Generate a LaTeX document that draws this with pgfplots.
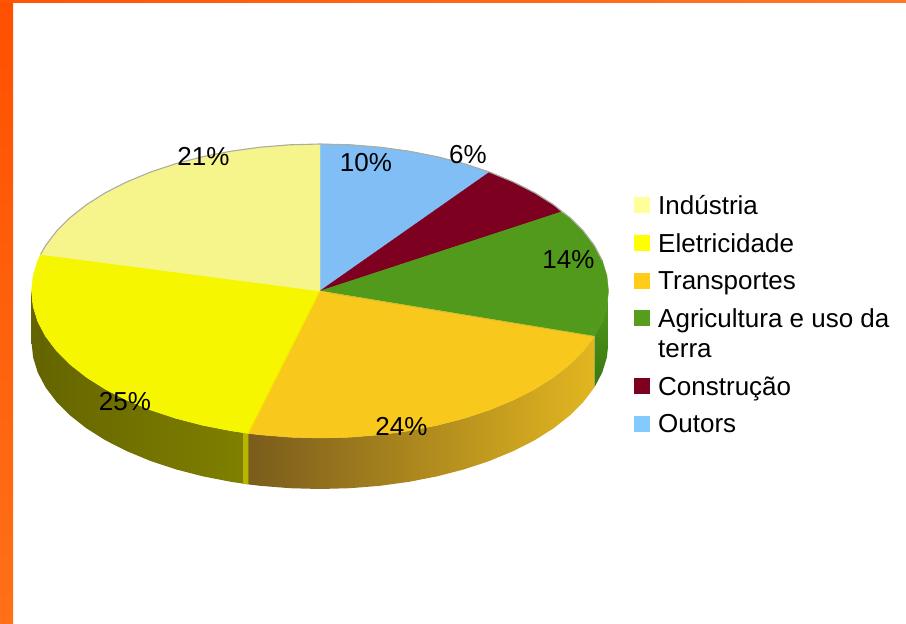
\documentclass[border=0pt]{standalone}
\usepackage{pgfplots}
\pgfplotsset{compat=1.18}
\usepackage{fontspec}
\setmainfont{Liberation Sans}
\definecolor{ind}{HTML}{F5F58C}
\definecolor{ele}{HTML}{F6F600}
\definecolor{tra}{HTML}{F8C81C}
\definecolor{agr}{HTML}{529A1C}
\definecolor{con}{HTML}{7E0021}
\definecolor{out}{HTML}{80BEF5}
\tikzset{
  lab/.style={anchor=base, font=\fontsize{26}{30}\selectfont, text=black, inner sep=0pt},
  leg/.style={anchor=base west, font=\fontsize{26}{30}\selectfont, text=black, inner sep=0pt},
}
\begin{document}
\begin{tikzpicture}
\begin{axis}[
  scale only axis, width=906pt, height=624pt,
  xmin=0, xmax=906, ymin=0, ymax=624, y dir=reverse,
  axis lines=none, no markers, clip=true,
  every axis plot/.append style={line join=round},
]
% frame band
\addplot[draw=none, top color={rgb,255:red,255;green,80;blue,0}, bottom color={rgb,255:red,255;green,112;blue,24}] coordinates {(0,0)(13,0)(13,624)(0,624)} -- cycle;
\addplot[draw=none, left color={rgb,255:red,255;green,85;blue,5}, right color={rgb,255:red,255;green,120;blue,40}] coordinates {(0,0)(906,0)(906,2)(0,2)} -- cycle;
% side walls
\addplot[draw=none, top color=agr, bottom color={rgb,255:red,58;green,120;blue,16}] coordinates {(608.5,291)(606.9,306.4)(602.2,321.6)(594.4,336.4)(594.4,387.4)(602.2,372.6)(606.9,357.4)(608.5,342)} -- cycle;
\addplot[draw=none, left color={rgb,255:red,122;green,92;blue,28}, middle color={rgb,255:red,192;green,154;blue,28}, right color={rgb,255:red,226;green,182;blue,32}] coordinates {(594.4,336.4)(583.5,350.8)(569.8,364.5)(553.4,377.4)(534.4,389.4)(513,400.2)(489.6,409.9)(464.3,418.3)(437.3,425.3)(409.1,430.8)(380,434.8)(350.2,437.2)(320,438)(289.8,437.2)(260,434.8)(248.3,433.4)(248.3,484.4)(260,485.8)(289.8,488.2)(320,489)(350.2,488.2)(380,485.8)(409.1,481.8)(437.3,476.3)(464.3,469.3)(489.6,460.9)(513,451.2)(534.4,440.4)(553.4,428.4)(569.8,415.5)(583.5,401.8)(594.4,387.4)} -- cycle;
\addplot[draw=none, left color={rgb,255:red,100;green,100;blue,0}, right color={rgb,255:red,128;green,128;blue,0}] coordinates {(248.3,433.4)(230.9,430.8)(202.7,425.3)(175.7,418.3)(150.4,409.9)(127,400.2)(105.6,389.4)(86.6,377.4)(70.2,364.5)(56.5,350.8)(45.6,336.4)(37.8,321.6)(33.1,306.4)(31.5,291)(31.5,342)(33.1,357.4)(37.8,372.6)(45.6,387.4)(56.5,401.8)(70.2,415.5)(86.6,428.4)(105.6,440.4)(127,451.2)(150.4,460.9)(175.7,469.3)(202.7,476.3)(230.9,481.8)(248.3,484.4)} -- cycle;
\addplot[draw=none, fill={rgb,255:red,182;green,182;blue,0}] coordinates {(243,432.6)(248.3,433.4)(248.3,484.4)(243,483.6)} -- cycle;
% top surfaces
\addplot[fill=out, draw=out, line width=0.4pt] coordinates {(320,291)(320,144)(350.2,144.8)(380,147.2)(409.1,151.2)(437.3,156.7)(464.3,163.7)(489.6,172.1)} -- cycle;
\addplot[fill=con, draw=con, line width=0.4pt] coordinates {(320,291)(489.6,172.1)(513,181.8)(534.4,192.6)(553.4,204.6)(561,212)} -- cycle;
\addplot[fill=agr, draw=agr, line width=0.4pt] coordinates {(320,291)(561,212)(569.8,217.5)(583.5,231.2)(594.4,245.6)(602.2,260.4)(606.9,275.6)(608.5,291)(606.9,306.4)(602.2,321.6)(594.4,336.4)} -- cycle;
\addplot[fill=tra, draw=tra, line width=0.4pt] coordinates {(320,291)(594.4,336.4)(583.5,350.8)(569.8,364.5)(553.4,377.4)(534.4,389.4)(513,400.2)(489.6,409.9)(464.3,418.3)(437.3,425.3)(409.1,430.8)(380,434.8)(350.2,437.2)(320,438)(289.8,437.2)(260,434.8)(248.3,433.4)} -- cycle;
\addplot[fill=ele, draw=ele, line width=0.4pt] coordinates {(320,291)(248.3,433.4)(230.9,430.8)(202.7,425.3)(175.7,418.3)(150.4,409.9)(127,400.2)(105.6,389.4)(86.6,377.4)(70.2,364.5)(56.5,350.8)(45.6,336.4)(37.8,321.6)(33.1,306.4)(31.5,291)(33.1,275.6)(37.8,260.4)(40.6,254.4)} -- cycle;
\addplot[fill=ind, draw=ind, line width=0.4pt] coordinates {(320,291)(40.6,254.4)(45.6,245.6)(56.5,231.2)(70.2,217.5)(86.6,204.6)(105.6,192.6)(127,181.8)(150.4,172.1)(175.7,163.7)(202.7,156.7)(230.9,151.2)(260,147.2)(289.8,144.8)(320,144)} -- cycle;
% seam and rim lines
\addplot[color={rgb,255:red,200;green,190;blue,50}, line width=0.8pt] coordinates {(330,293)(594.4,336.4)};
\addplot[color={rgb,255:red,248;green,224;blue,0}, line width=1pt] coordinates {(320,291)(248.3,433.4)};
\addplot[color={rgb,255:red,172;green,172;blue,160}, line width=1.1pt] coordinates {(40.6,254.4)(45.6,245.6)(56.5,231.2)(70.2,217.5)(86.6,204.6)(105.6,192.6)(127,181.8)(150.4,172.1)(175.7,163.7)(202.7,156.7)(230.9,151.2)(260,147.2)(289.8,144.8)(320,144)(350.2,144.8)(380,147.2)(409.1,151.2)(437.3,156.7)(464.3,163.7)(489.6,172.1)(513,181.8)(534.4,192.6)(553.4,204.6)(569.8,217.5)(583.5,231.2)(594.4,245.6)(602.2,260.4)};
% legend swatches
\addplot[draw=none, fill={rgb,255:red,255;green,255;blue,153}] coordinates {(634,197)(650,197)(650,213)(634,213)} -- cycle;
\addplot[draw=none, fill={rgb,255:red,255;green,255;blue,0}] coordinates {(634,235)(650,235)(650,251)(634,251)} -- cycle;
\addplot[draw=none, fill={rgb,255:red,255;green,204;blue,26}] coordinates {(634,273)(650,273)(650,289)(634,289)} -- cycle;
\addplot[draw=none, fill={rgb,255:red,87;green,157;blue,28}] coordinates {(634,310)(650,310)(650,326)(634,326)} -- cycle;
\addplot[draw=none, fill=con] coordinates {(634,378)(650,378)(650,394)(634,394)} -- cycle;
\addplot[draw=none, fill={rgb,255:red,131;green,202;blue,255}] coordinates {(634,416)(650,416)(650,432)(634,432)} -- cycle;
% legend text
\node[leg] at (axis cs:658,214) {Indústria};
\node[leg] at (axis cs:658,252) {Eletricidade};
\node[leg] at (axis cs:658,289) {Transportes};
\node[leg] at (axis cs:658,327) {Agricultura e uso da};
\node[leg] at (axis cs:658,357) {terra};
\node[leg] at (axis cs:658,395) {Construção};
\node[leg] at (axis cs:658,432) {Outors};
% data labels
\node[lab] at (axis cs:203.5,165) {21\%};
\node[lab] at (axis cs:366,171) {10\%};
\node[lab] at (axis cs:468,163) {6\%};
\node[lab] at (axis cs:568.5,268) {14\%};
\node[lab] at (axis cs:401.5,435) {24\%};
\node[lab] at (axis cs:125,410) {25\%};
\end{axis}
\end{tikzpicture}
\end{document}
